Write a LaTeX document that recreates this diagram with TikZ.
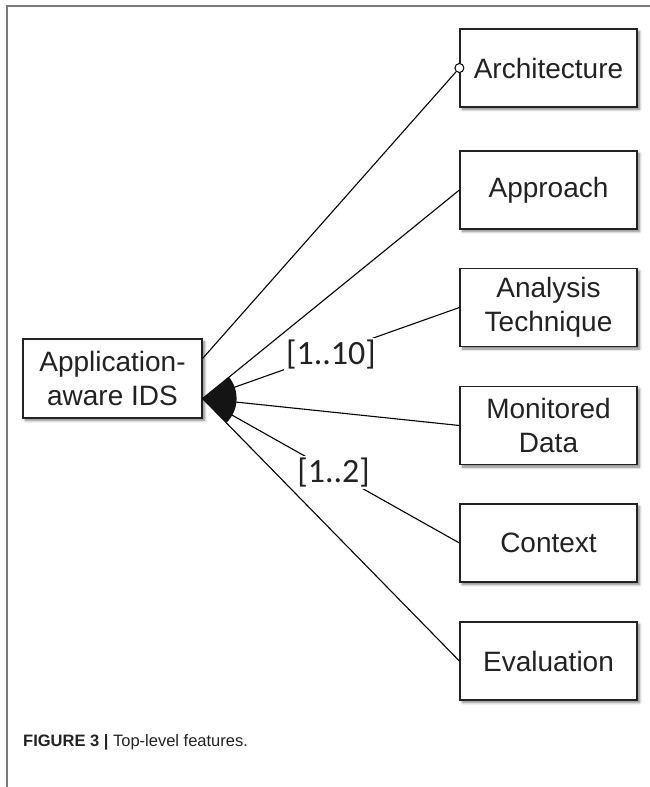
\documentclass[tikz,border=0pt]{standalone}
\usepackage{fontspec}
\setmainfont{Liberation Sans}
\newfontfamily\cardfont{Carlito}
\usetikzlibrary{calc,shadows.blur}
\definecolor{ink}{HTML}{222222}
\definecolor{framegray}{HTML}{7A7A7A}
\tikzset{
  feature/.style={draw=ink, line width=1.2pt, fill=white, text=ink,
    minimum width=177pt, minimum height=78pt, inner sep=0pt, align=center,
    font=\fontsize{28}{34.5}\selectfont,
    blur shadow={shadow xshift=2.5pt, shadow yshift=-2.5pt, shadow blur steps=6,
      shadow blur radius=2.5pt, shadow opacity=50}},
  link/.style={line width=1.1pt, draw=black},
  card/.style={fill=white, inner sep=2pt, text=ink,
    font=\cardfont\fontsize{34}{40}\selectfont}
}
\begin{document}
\begin{tikzpicture}[x=1pt,y=1pt]
  \useasboundingbox (0,0) rectangle (650,-787);
  % page frame: top and left rule
  \draw[framegray, line width=1.5pt] (650,-6) -- (7,-6) -- (7,-787);

  % root feature
  \node[feature, minimum width=179pt, minimum height=79pt] (ids) at (112.5,-378.5)
    {Application-\\aware IDS};

  % sub-features
  \node[feature] (arch) at (548.5,-68)    {Architecture};
  \node[feature] (appr) at (548.5,-190)   {Approach};
  \node[feature] (anat) at (548.5,-307.5) {Analysis\\Technique};
  \node[feature] (mond) at (548.5,-425.5) {Monitored\\Data};
  \node[feature] (ctx)  at (548.5,-543)   {Context};
  \node[feature] (eval) at (548.5,-661)   {Evaluation};

  % anchor points on the root's right side
  \coordinate (tip)    at ($(ids.south east)!0.25!(ids.north east)$);
  \coordinate (ostart) at ($(ids.south east)!0.75!(ids.north east)$);

  % optional feature: hollow circle end
  \node[circle, draw=black, line width=1pt, fill=white, inner sep=0pt,
        minimum size=9pt] (knob) at (arch.west) {};
  \draw[link] (ostart) -- (knob);

  % or-group connectors
  \draw[link] (tip) -- (appr.west);
  \draw[link] (tip) -- (anat.west) node[card, pos=0.5, yshift=-2pt] {[1..10]};
  \draw[link] (tip) -- (mond.west);
  \draw[link] (tip) -- (ctx.west) node[card, pos=0.51] {[1..2]};
  \draw[link] (tip) -- (eval.west);

  % filled group arc
  \begin{scope}
    \clip (tip) circle (34);
    \fill[black!92] (tip) -- (appr.west) -- (eval.west) -- cycle;
  \end{scope}

  % caption
  \node[anchor=base west, inner sep=0pt, text=ink,
        font=\fontsize{16.5}{19.5}\selectfont] (cap) at (23,-746)
    {\textbf{FIGURE 3 |} Top-level features.};
\end{tikzpicture}
\end{document}
